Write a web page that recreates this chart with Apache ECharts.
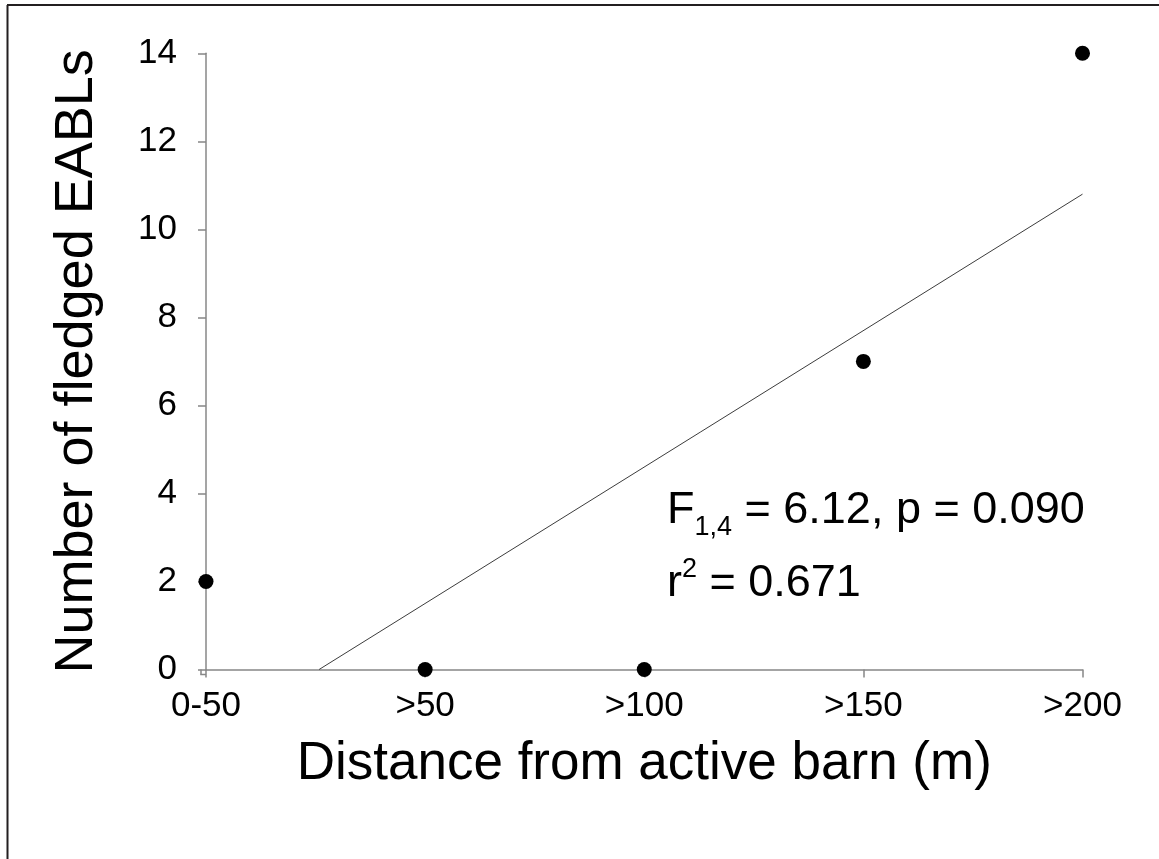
<!DOCTYPE html>
<html><head><meta charset="utf-8">
<script src="https://cdn.jsdelivr.net/npm/echarts@6/dist/echarts.min.js"></script>
<style>html,body{margin:0;padding:0;background:#fff}#c{width:1159px;height:859px}</style>
</head><body><div id="c"></div>
<script>
// ---- data ----
const categories = ['0-50', '>50', '>100', '>150', '>200'];
const fledged = [2, 0, 0, 7, 14];
const yTickValues = [0, 2, 4, 6, 8, 10, 12, 14];
const statLabels = ['6.12', '0.090', '0.671']; // F(1,4), p, r^2
const xTitle = 'Distance from active barn (m)';
const yTitle = 'Number of fledged EABLs';

// least-squares fit of fledged vs category index
const xs = fledged.map((_, i) => i);
const n = xs.length;
const mx = xs.reduce((a, b) => a + b, 0) / n;
const my = fledged.reduce((a, b) => a + b, 0) / n;
let sxy = 0, sxx = 0;
xs.forEach((x, i) => { sxy += (x - mx) * (fledged[i] - my); sxx += (x - mx) * (x - mx); });
const slope = sxy / sxx, icpt = my - slope * mx;
const xStart = -icpt / slope, xEnd = xs[n - 1];
const fitLine = [[xStart, 0], [xEnd, icpt + slope * xEnd]];

const FONT = '"Liberation Sans", Arial, sans-serif';
const AXC = '#878787';
const chart = echarts.init(document.getElementById('c'), null, {renderer: 'canvas'});
chart.setOption({
  animation: false,
  backgroundColor: '#fff',
  grid: {left: 206, right: 76.5, top: 53.3, bottom: 189.5},
  xAxis: {
    type: 'value', min: 0, max: categories.length - 1, interval: 1, offset: 5,
    axisLine: {show: true, lineStyle: {color: AXC, width: 1.5}},
    axisTick: {show: true, length: 8, lineStyle: {color: AXC, width: 1.5}},
    splitLine: {show: false},
    axisLabel: {formatter: v => categories[v] || '', color: '#000', fontSize: 35, fontFamily: FONT, margin: 14},
    name: xTitle, nameLocation: 'middle', nameGap: 63,
    nameTextStyle: {color: '#000', fontSize: 53, fontFamily: FONT}
  },
  yAxis: {
    type: 'value', min: yTickValues[0], max: yTickValues[yTickValues.length - 1], interval: yTickValues[1] - yTickValues[0], offset: 5,
    axisLine: {show: true, lineStyle: {color: AXC, width: 1.5}},
    axisTick: {show: true, length: 8, lineStyle: {color: AXC, width: 1.5}},
    splitLine: {show: false},
    axisLabel: {color: '#000', fontSize: 35, fontFamily: FONT, margin: 24},
    name: yTitle, nameLocation: 'middle', nameGap: 97, nameRotate: 90,
    nameTextStyle: {color: '#000', fontSize: 54, fontFamily: FONT}
  },
  series: [
    {type: 'line', data: fitLine, symbol: 'none', lineStyle: {color: '#3c3c3c', width: 1}, z: 2},
    {type: 'scatter', data: fledged.map((v, i) => [i, v]), symbol: 'circle', symbolSize: 15,
     itemStyle: {color: '#000', opacity: 1}, z: 3}
  ]
});

// axis corner join and annotation
const p0 = chart.convertToPixel({gridIndex: 0}, [0, 0]);
const ax = p0[0] - 5, ay = p0[1] + 5;
chart.setOption({
  graphic: [
    {type: 'line', shape: {x1: ax, y1: p0[1], x2: ax, y2: ay}, style: {stroke: AXC, lineWidth: 1.5}},
    {type: 'line', shape: {x1: ax - 0.75, y1: ay, x2: p0[0], y2: ay}, style: {stroke: AXC, lineWidth: 1.5}},
    // outer frame (left and top)
    {type: 'line', shape: {x1: 7.5, y1: 5, x2: 7.5, y2: 859}, style: {stroke: '#231f20', lineWidth: 2}},
    {type: 'line', shape: {x1: 7, y1: 5, x2: 1159, y2: 5}, style: {stroke: '#231f20', lineWidth: 2}},
    {type: 'text', left: 667, top: 488, style: {
      text: '{m|F}{s|1,4}{m| = ' + statLabels[0] + ', p = ' + statLabels[1] + '}',
      rich: {
        m: {fontSize: 45, fontFamily: FONT, fill: '#000', lineHeight: 50, verticalAlign: 'top'},
        s: {fontSize: 27, fontFamily: FONT, fill: '#000', lineHeight: 27, verticalAlign: 'bottom', height: 20}
      }}},
    {type: 'text', left: 667, top: 556, style: {
      text: '{m|r}{p|2}{m| = ' + statLabels[2] + '}',
      rich: {
        m: {fontSize: 45, fontFamily: FONT, fill: '#000', lineHeight: 50, verticalAlign: 'bottom'},
        p: {fontSize: 27, fontFamily: FONT, fill: '#000', lineHeight: 27, verticalAlign: 'top'}
      }}}
  ]
});
</script></body></html>
